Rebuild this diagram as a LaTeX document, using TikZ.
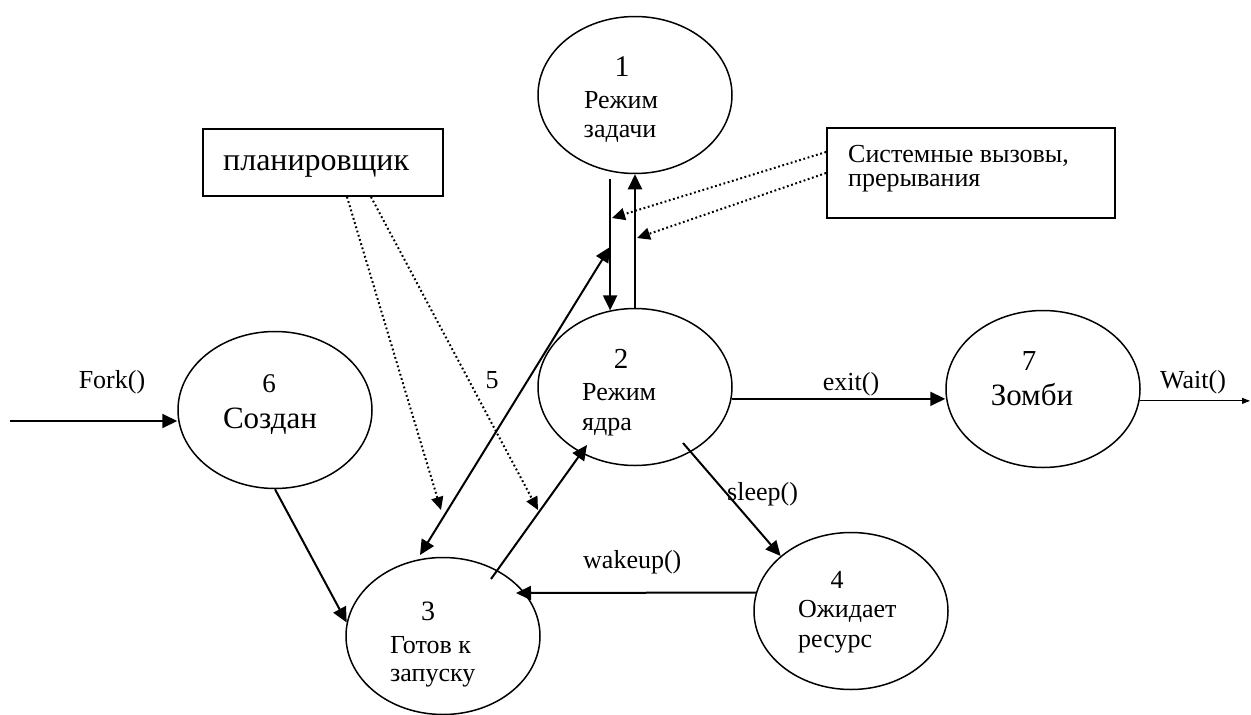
\documentclass[tikz,border=0pt]{standalone}
\usepackage{fontspec}
\setmainfont{Liberation Serif}
\usetikzlibrary{arrows.meta,shapes.geometric}
\begin{document}
\begin{tikzpicture}[x=1pt,y=-1pt,
  st/.style={draw, ellipse, line width=1.5pt, minimum width=194pt, minimum height=157pt, inner sep=0pt},
  bx/.style={draw, line width=1.8pt, inner sep=0pt},
  arr/.style={line width=2pt, -{Triangle[length=15pt,width=14pt]}},
  dbl/.style={line width=2pt, {Triangle[length=15pt,width=14pt]}-{Triangle[length=15pt,width=14pt]}},
  dotarr/.style={line width=2pt, dash pattern=on 1.8pt off 2.6pt, -{Triangle[length=13pt,width=12pt]}},
  thinarr/.style={line width=1pt, -{Triangle[length=8pt,width=6pt]}},
  lbl/.style={inner sep=0pt, font=\fontsize{26}{30}\selectfont},
  big/.style={inner sep=0pt, font=\fontsize{31}{36}\selectfont}
]
\useasboundingbox (0,0) rectangle (1251,715);

% states
\node[st] (e1) at (635,95) {};
\node[st] (e2) at (635,387) {};
\node[st] (e3) at (443,636) {};
\node[st] (e4) at (851,611) {};
\node[st] (e6) at (275,410) {};
\node[st] (e7) at (1043,389) {};

% boxes
\node[bx, minimum width=240pt, minimum height=67pt] (plan) at (323,162.5) {};
\node[bx, minimum width=288pt, minimum height=90pt] (sys) at (971,173) {};

% texts in states
\node[inner sep=0pt, font=\fontsize{30}{34}\selectfont, anchor=base] (n1) at (622,76) {1};
\node[lbl, anchor=base] (t1a) at (621,108) {Режим};
\node[lbl, anchor=base] (t1b) at (620,137) {задачи};

\node[inner sep=0pt, font=\fontsize{29}{34}\selectfont, anchor=base] (n2) at (621,368) {2};
\node[lbl, anchor=base west] (t2a) at (582,400) {Режим};
\node[lbl, anchor=base west] (t2b) at (582,430) {ядра};

\node[inner sep=0pt, font=\fontsize{28}{32}\selectfont, anchor=base] (n3) at (428,620) {3};
\node[lbl, anchor=base west] (t3a) at (390,653) {Готов к};
\node[lbl, anchor=base west] (t3b) at (390,681) {запуску};

\node[inner sep=0pt, font=\fontsize{26}{30}\selectfont, anchor=base] (n4) at (837,588) {4};
\node[lbl, anchor=base west] (t4a) at (798,617) {Ожидает};
\node[lbl, anchor=base west] (t4b) at (798,647) {ресурс};

\node[inner sep=0pt, font=\fontsize{27}{32}\selectfont, anchor=base] (n6) at (269,392) {6};
\node[big, anchor=base] (t6) at (270,428) {Создан};

\node[inner sep=0pt, font=\fontsize{29}{34}\selectfont, anchor=base] (n7) at (1029,370) {7};
\node[big, anchor=base] (t7) at (1032,405) {Зомби};

\node[inner sep=0pt, font=\fontsize{32}{36}\selectfont, anchor=base west] (tp) at (223,170) {планировщик};
\node[lbl, anchor=base west] (ts1) at (848,162) {Системные вызовы,};
\node[lbl, anchor=base west] (ts2) at (848,186) {прерывания};

% edge labels
\node[lbl, anchor=base] (lfork) at (112,388) {Fork()};
\node[lbl, anchor=base] (lexit) at (851,390) {exit()};
\node[lbl, anchor=base] (lwait) at (1193,388) {Wait()};
\node[lbl, anchor=base west] (lsleep) at (727,500) {sleep()};
\node[lbl, anchor=base west] (lwake) at (583,568) {wakeup()};
\node[lbl, anchor=base] (l5) at (492,388) {5};

% free ends / junctions
\coordinate (fk) at (10,421);
\coordinate (wt) at (1250,0);
\coordinate (j1) at (610,247);
\coordinate (k1) at (420,555);
\coordinate (u1) at (491,579);
\coordinate (u2) at (587,445);
\coordinate (j2) at (538,510);
\coordinate (s1) at (683,443);
\coordinate (w2) at (516,593);
\coordinate (j3) at (612,218);
\coordinate (j4) at (637,238);
\coordinate (p1) at (441,510);

% connectors
\draw[arr] (fk) -- (fk -| e6.west);
\draw[arr] (e6.south) -- (e3.172);
\draw[arr, shorten <=7pt] (e1.252) -- (e2.108);
\draw[arr] (e2.north) -- (e1.south);
\draw[dbl] (k1) -- (j1);
\draw[arr] (u1) -- (u2);
\draw[arr] (e2.-7) -- (e2.-7 -| e7.west);
\draw[thinarr] (e7.-7) -- (e7.-7 -| wt);
\draw[arr] (s1) -- (e4.142);
\draw[arr] (e4.169) -- (w2);

% dotted control lines
\draw[dotarr] ([xshift=24pt]plan.south) -- (p1);
\draw[dotarr] ([xshift=48pt]plan.south) -- (j2);
\draw[dotarr] ([yshift=21pt]sys.west) -- (j3);
\draw[dotarr] (sys.west) -- (j4);
\end{tikzpicture}
\end{document}
